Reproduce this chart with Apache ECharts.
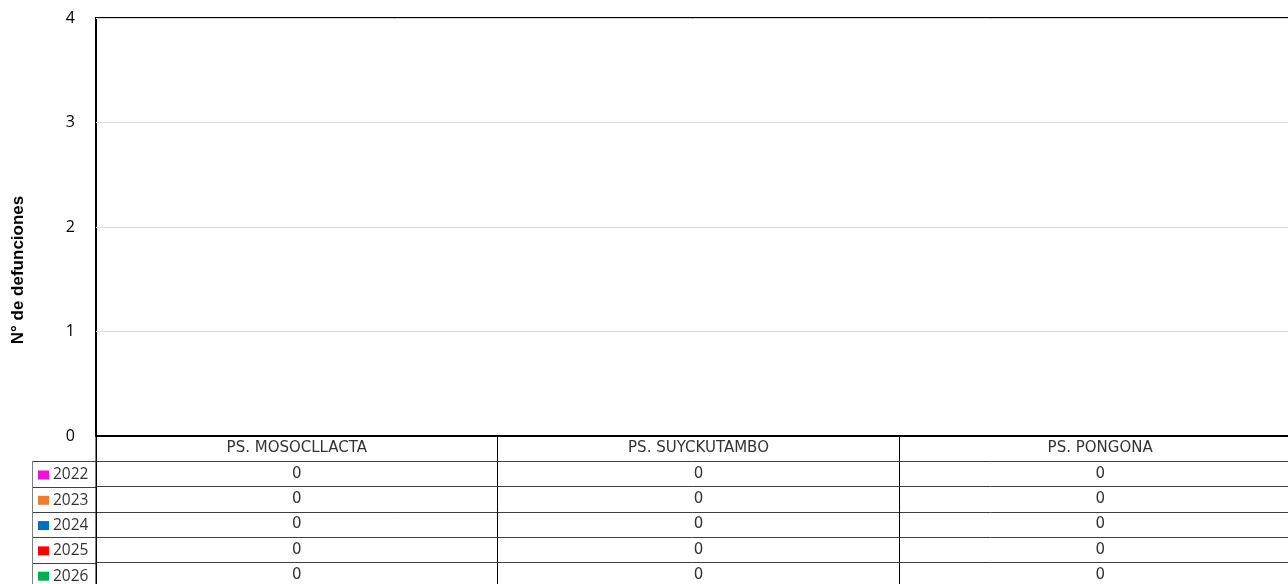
<!DOCTYPE html>
<html>
<head>
<meta charset="utf-8">
<script src="https://cdn.jsdelivr.net/npm/echarts@6/dist/echarts.min.js"></script>
<style>
  html, body { margin: 0; padding: 0; background: #fff; }
  #chart { width: 1288px; height: 584px; }
</style>
</head>
<body>
<div id="chart"></div>
<script>
// data
const categories = ['PS. MOSOCLLACTA', 'PS. SUYCKUTAMBO', 'PS. PONGONA'];
const years = ['2022', '2023', '2024', '2025', '2026'];
const v2022 = [0, 0, 0];
const v2023 = [0, 0, 0];
const v2024 = [0, 0, 0];
const v2025 = [0, 0, 0];
const v2026 = [0, 0, 0];
const yearValues = [v2022, v2023, v2024, v2025, v2026];
const yearColors = ['#f012d2', '#ed7d31', '#0070c0', '#ff0000', '#00b050'];

const rowH = 25.3;
const tableFont = 'DejaVu Sans';

let chart = echarts.init(document.getElementById('chart'));

// one extra x axis per table row, only its line, ticks and labels are shown
let xAxes = [{
  type: 'category',
  data: categories,
  position: 'bottom',
  axisLine: { lineStyle: { color: '#000', width: 2 } },
  axisTick: { show: true, length: rowH, lineStyle: { color: '#000', width: 1 } },
  axisLabel: { color: '#333', fontSize: 15, fontFamily: tableFont, margin: 5 }
}];
years.forEach((y, k) => {
  xAxes.push({
    type: 'category',
    data: categories,
    position: 'bottom',
    offset: rowH * (k + 1),
    axisLine: { lineStyle: { color: '#404040', width: 1 } },
    axisTick: { show: true, length: rowH, lineStyle: { color: '#000', width: 1 } },
    axisLabel: {
      color: '#333', fontSize: 15, fontFamily: tableFont, margin: 5,
      formatter: (val, idx) => String(yearValues[k][idx])
    }
  });
});

let option = {
  animation: false,
  grid: {
    left: 96, top: 18, right: -13, bottom: 148,
    outerBoundsMode: 'none',
    show: true, borderColor: '#000', borderWidth: 2
  },
  legend: {
    orient: 'vertical',
    left: 33, top: 462,
    height: 200,
    icon: 'rect',
    itemWidth: 11, itemHeight: 9,
    itemGap: 9.3,
    textStyle: { color: '#333', fontSize: 15.5, fontFamily: 'Open Sans', lineHeight: 16, padding: [0, 0, 0, -1] },
    data: years
  },
  xAxis: xAxes,
  yAxis: {
    type: 'value',
    min: 0, max: 4, interval: 1,
    name: 'N° de defunciones',
    nameLocation: 'middle',
    nameGap: 69,
    nameTextStyle: { fontSize: 17, fontWeight: 'bold', color: '#000', fontFamily: 'Liberation Sans', padding: [0, 86, 0, 0] },
    axisLine: { show: false },
    axisTick: { show: false },
    axisLabel: { color: '#000', fontSize: 16, fontFamily: 'Open Sans', margin: 21 },
    splitLine: { lineStyle: { color: '#d9d9d9', width: 1 } }
  },
  series: years.map((y, k) => ({
    name: y,
    type: 'bar',
    xAxisIndex: 0,
    itemStyle: { color: yearColors[k] },
    data: yearValues[k]
  }))
};
chart.setOption(option);

// borders for the year column of the table, left of the plot
const base = chart.convertToPixel({ yAxisIndex: 0 }, 0);
const x0 = 96;
let lines = [];
for (let k = 1; k <= years.length + 1; k++) {
  const y = Math.round(base + rowH * k) + 0.5;
  lines.push({ type: 'line', shape: { x1: 32, y1: y, x2: x0, y2: y }, style: { stroke: '#404040', lineWidth: 1 } });
}
lines.push({ type: 'line', shape: { x1: 32.5, y1: Math.round(base + rowH), x2: 32.5, y2: 584 }, style: { stroke: '#808080', lineWidth: 1 } });
lines.push({ type: 'line', shape: { x1: x0, y1: base, x2: x0, y2: 584 }, style: { stroke: '#000', lineWidth: 1 } });
chart.setOption({ graphic: lines });
</script>
</body>
</html>
